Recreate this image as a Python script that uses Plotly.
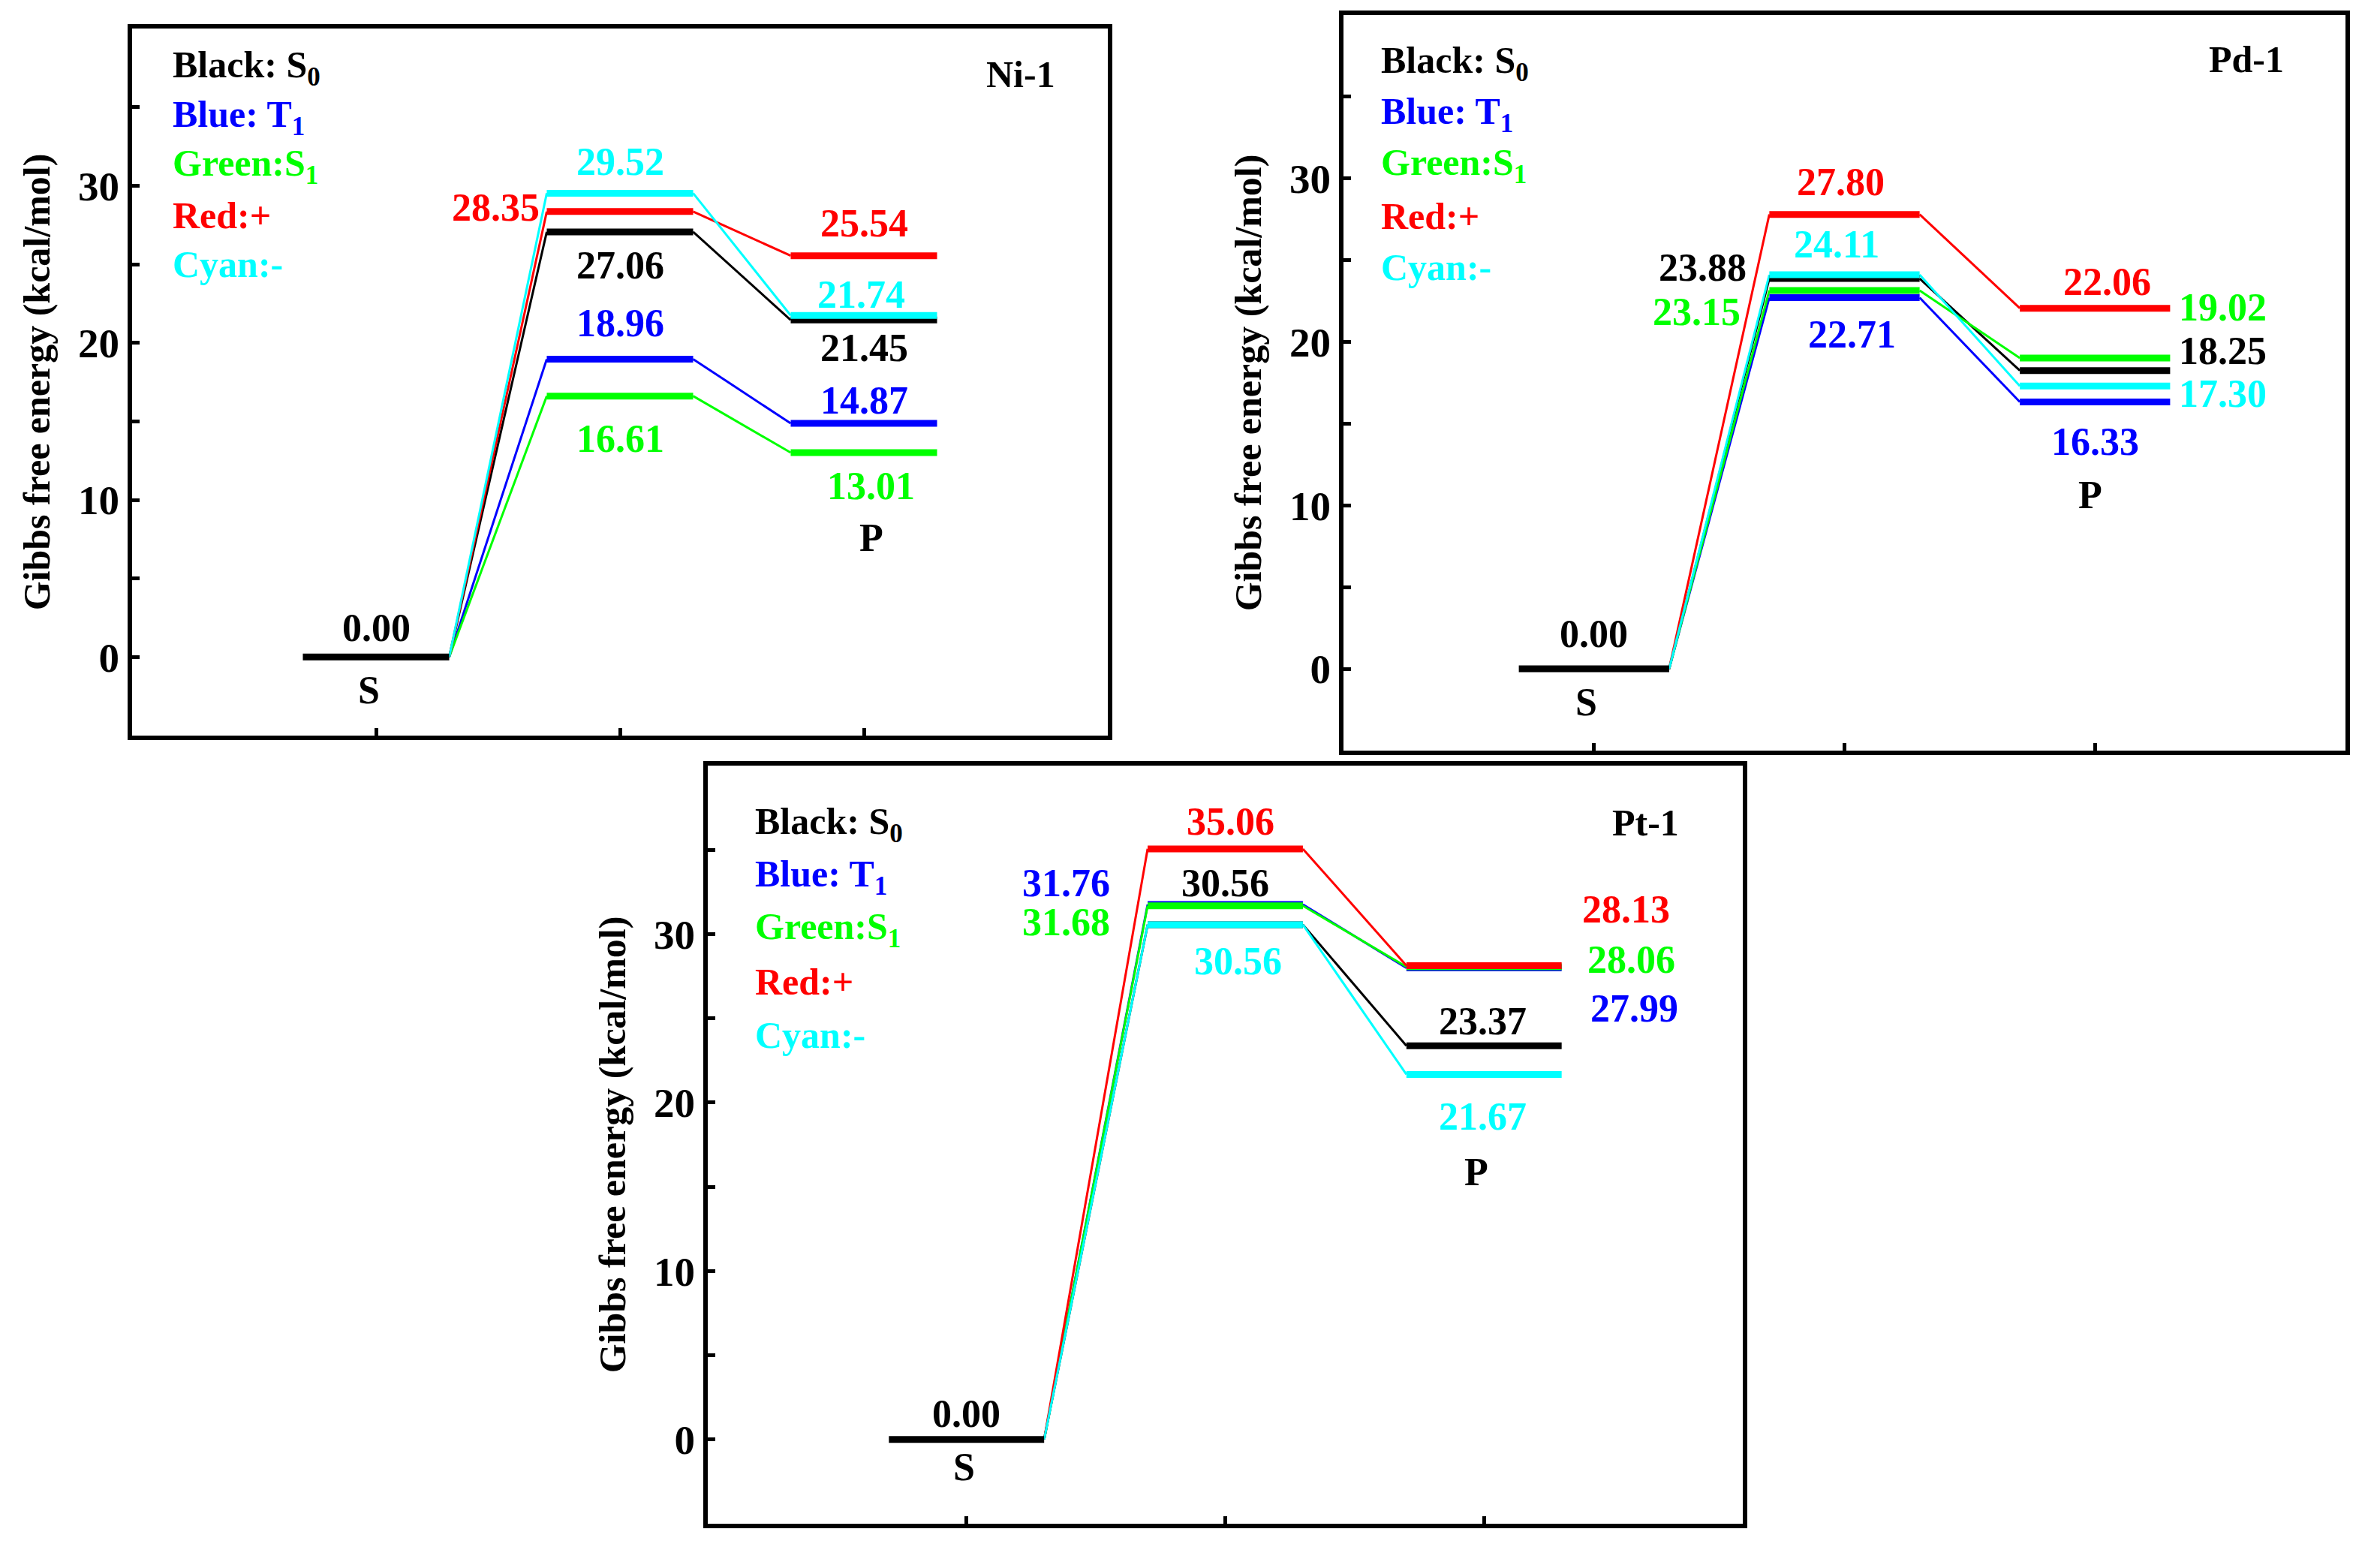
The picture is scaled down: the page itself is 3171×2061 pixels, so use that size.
import plotly.graph_objects as go

# ---------------- data ----------------
steps = ["S", "TS", "P"]
step_x = [1, 2, 3]
state_names = ["Black: S<sub>0</sub>", "Blue: T<sub>1</sub>", "Green:S<sub>1</sub>", "Red:+", "Cyan:-"]
state_colors = ["#000000", "#0000FF", "#00FF00", "#FF0000", "#00FFFF"]

ni_black = [0.00, 27.06, 21.45]
ni_blue = [0.00, 18.96, 14.87]
ni_green = [0.00, 16.61, 13.01]
ni_red = [0.00, 28.35, 25.54]
ni_cyan = [0.00, 29.52, 21.74]

pd_black = [0.00, 23.88, 18.25]
pd_blue = [0.00, 22.71, 16.33]
pd_green = [0.00, 23.15, 19.02]
pd_red = [0.00, 27.80, 22.06]
pd_cyan = [0.00, 24.11, 17.30]

pt_black = [0.00, 30.56, 23.37]
pt_blue = [0.00, 31.76, 27.99]
pt_green = [0.00, 31.68, 28.06]
pt_red = [0.00, 35.06, 28.13]
pt_cyan = [0.00, 30.56, 21.67]

panel_names = ["Ni-1", "Pd-1", "Pt-1"]
y_major = [0, 10, 20, 30]
y_minor = [5, 15, 25, 35]
y_title = "Gibbs free energy (kcal/mol)"

panels = [
    [ni_black, ni_blue, ni_green, ni_red, ni_cyan],
    [pd_black, pd_blue, pd_green, pd_red, pd_cyan],
    [pt_black, pt_blue, pt_green, pt_red, pt_cyan],
]

# ---------------- layout / placement (styling) ----------------
W, H = 3171, 2061
FONT = "'Liberation Serif', 'Times New Roman', Times, serif"
HALF = 0.3  # half width of an energy level bar (x units)
LABEL_SHIFT = 4  # px

# plot-area boxes in pixels: left, right, top, bottom
boxes = [(176, 1476, 38, 980), (1790, 3125, 20, 1000), (943, 2322, 1020, 2030)]

# label placement per panel: [series][step(TS,P)] -> (x, dy)
label_pos = [
    [  # Ni
        [(2.00, -2.30), (3.00, -1.95)],
        [(2.00, 2.10), (3.00, 1.25)],
        [(2.00, -2.90), (3.03, -2.30)],
        [(1.49, 0.05), (3.00, 1.85)],
        [(2.00, 1.80), (2.99, 1.15)],
    ],
    [  # Pd
        [(1.435, 0.47), (3.51, 1.00)],
        [(2.03, -2.45), (3.00, -2.63)],
        [(1.41, -1.49), (3.51, 2.91)],
        [(1.985, 1.80), (3.05, 1.44)],
        [(1.97, 1.69), (3.51, -0.63)],
    ],
    [  # Pt
        [(2.00, 2.30), (2.995, 1.30)],
        [(1.384, 1.10), (3.58, -2.59)],
        [(1.384, -1.14), (3.57, 0.24)],
        [(2.02, 1.44), (3.55, 3.17)],
        [(2.05, -2.36), (2.995, -2.67)],
    ],
]
zero_label = [(1.0, 1.65), (1.0, 1.94), (1.0, 1.33)]
s_label = [(0.97, -2.3), (0.97, -2.24), (0.99, -1.8)]
p_label = [(3.03, 7.4), (2.98, 10.46), (2.97, 15.7)]
name_pos = [(3.79, 37.1), (3.76, 37.3), (3.76, 36.6)]
legend_pos = [(0.040, 0.9445), (0.036, 0.935), (0.044, 0.923)]
legend_step = 0.0695

fig = go.Figure()
annotations = []

for p, series in enumerate(panels):
    ax = "" if p == 0 else str(p + 1)
    xref, yref = "x" + ax, "y" + ax
    # connectors first (thin)
    for s, vals in enumerate(series):
        xs = [step_x[0] + HALF, step_x[1] - HALF, None, step_x[1] + HALF, step_x[2] - HALF]
        ys = [vals[0], vals[1], None, vals[1], vals[2]]
        fig.add_trace(go.Scatter(x=xs, y=ys, mode="lines", xaxis=xref, yaxis=yref,
                                 line=dict(color=state_colors[s], width=3),
                                 showlegend=False, hoverinfo="skip"))
    # levels (thick)
    for s, vals in enumerate(series):
        xs, ys = [], []
        start = 0 if s == 0 else 1
        for k in range(start, 3):
            xs += [step_x[k] - HALF, step_x[k] + HALF, None]
            ys += [vals[k], vals[k], None]
        fig.add_trace(go.Scatter(x=xs, y=ys, mode="lines", xaxis=xref, yaxis=yref,
                                 line=dict(color=state_colors[s], width=9),
                                 showlegend=False, name=state_names[s]))
    # value labels
    for s, vals in enumerate(series):
        for k in (1, 2):
            lx, dy = label_pos[p][s][k - 1]
            annotations.append(dict(x=lx, y=vals[k] + dy, xref=xref, yref=yref, yshift=LABEL_SHIFT,
                                    text="<b>%.2f</b>" % vals[k], showarrow=False,
                                    xanchor="center", yanchor="middle",
                                    font=dict(family=FONT, size=52, color=state_colors[s])))
    zx, zy = zero_label[p]
    annotations.append(dict(x=zx, y=series[0][0] + zy, xref=xref, yref=yref, yshift=LABEL_SHIFT,
                            text="<b>%.2f</b>" % series[0][0],
                            showarrow=False, xanchor="center", yanchor="middle",
                            font=dict(family=FONT, size=52, color="#000000")))
    for txt, (tx, ty) in ((steps[0], s_label[p]), (steps[2], p_label[p])):
        annotations.append(dict(x=tx, y=ty, xref=xref, yref=yref, yshift=LABEL_SHIFT,
                                text="<b>%s</b>" % txt, showarrow=False,
                                xanchor="center", yanchor="middle",
                                font=dict(family=FONT, size=52, color="#000000")))
    nx, ny = name_pos[p]
    annotations.append(dict(x=nx, y=ny, xref=xref, yref=yref, text="<b>%s</b>" % panel_names[p],
                            showarrow=False, xanchor="right", yanchor="middle",
                            font=dict(family=FONT, size=50, color="#000000")))
    lx0, ly0 = legend_pos[p]
    for s in range(5):
        annotations.append(dict(x=lx0, y=ly0 - s * legend_step, xref=xref + " domain", yref=yref + " domain",
                                text="<b>%s</b>" % state_names[s], showarrow=False,
                                xanchor="left", yanchor="middle",
                                font=dict(family=FONT, size=50, color=state_colors[s])))

layout = dict(width=W, height=H, margin=dict(l=0, r=0, t=0, b=0),
              paper_bgcolor="white", plot_bgcolor="white", showlegend=False,
              font=dict(family=FONT), annotations=annotations)

for p in range(3):
    ax = "" if p == 0 else str(p + 1)
    l, r, t, b = boxes[p]
    layout["xaxis" + ax] = dict(domain=[l / W, r / W], range=[0, 4], anchor="y" + ax,
                                showline=True, linewidth=6, linecolor="black", mirror=True,
                                ticks="inside", tickvals=step_x, ticklen=10, tickwidth=5,
                                tickcolor="black", showticklabels=False, showgrid=False, zeroline=False)
    layout["yaxis" + ax] = dict(domain=[1 - b / H, 1 - t / H], range=[-5, 40], anchor="x" + ax,
                                showline=True, linewidth=6, linecolor="black", mirror=True,
                                ticks="inside", tickvals=y_major,
                                ticktext=["<b>%d</b>" % v for v in y_major],
                                ticklen=10, tickwidth=5, tickcolor="black", showgrid=False, zeroline=False,
                                minor=dict(tickvals=y_minor, ticks="inside", ticklen=10, tickwidth=5,
                                           tickcolor="black", showgrid=False),
                                tickfont=dict(family=FONT, size=55, color="black"),
                                title=dict(text="<b>%s</b>" % y_title, standoff=24,
                                           font=dict(family=FONT, size=50, color="black")))

fig.update_layout(**layout)
fig.write_html("out.html", config={"displayModeBar": False},
               post_script="document.body.style.margin='0';document.body.style.overflow='hidden';")
